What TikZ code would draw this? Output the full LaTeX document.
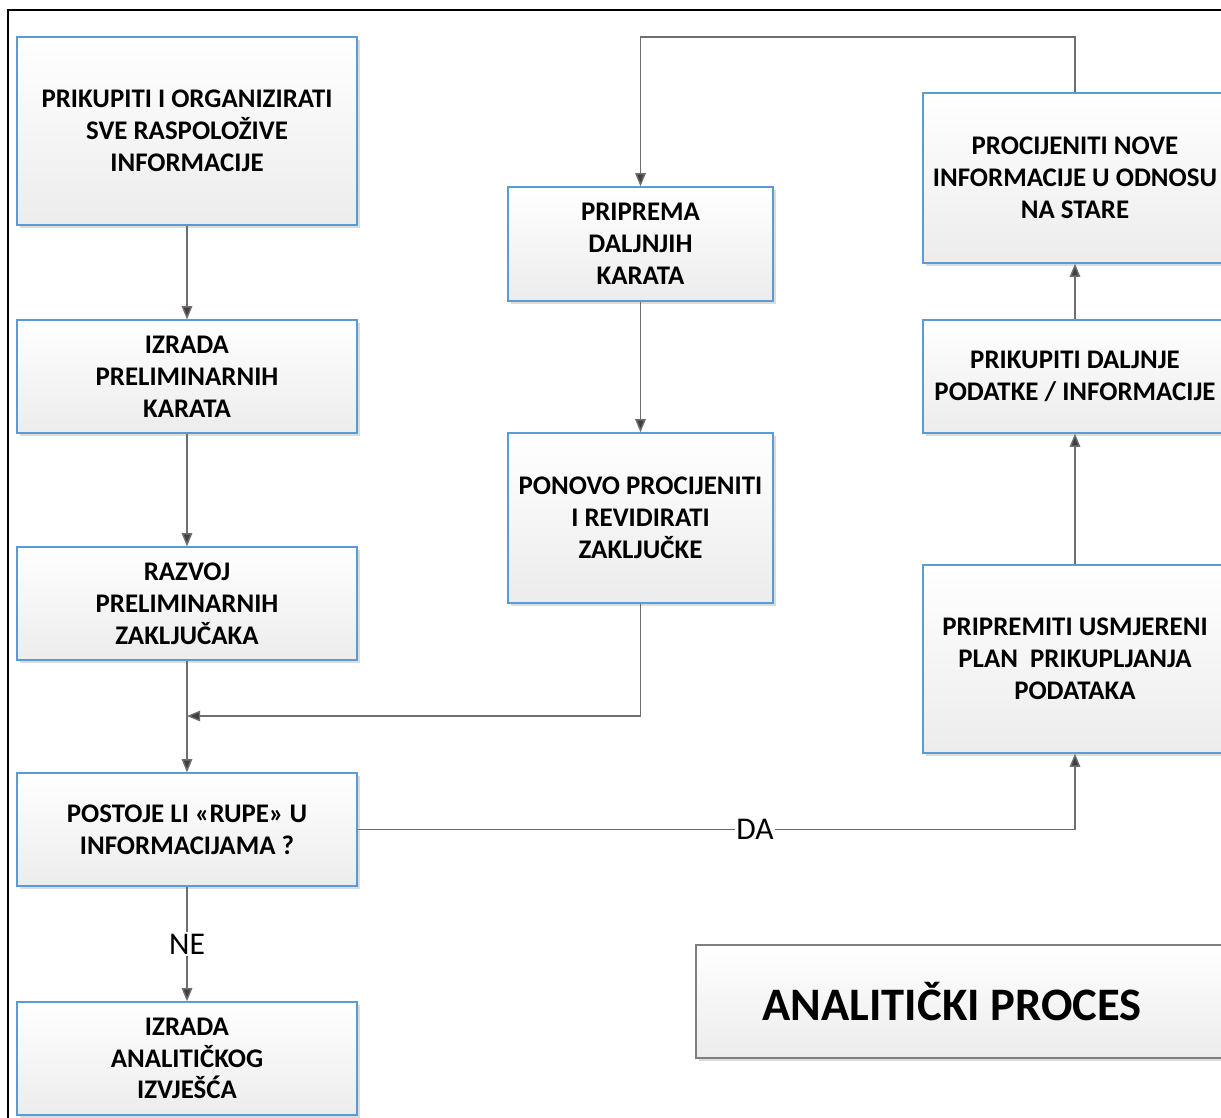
\documentclass[tikz,border=0pt]{standalone}
\usepackage{fontspec}
\setmainfont{Carlito}
\usepackage{tikz}
\usetikzlibrary{arrows.meta,shadows}
\definecolor{edge}{HTML}{5B9BD5}
\definecolor{boxbot}{HTML}{ECECEC}
\definecolor{line}{HTML}{6E6E6E}
\definecolor{tip}{HTML}{404040}
\definecolor{shade}{HTML}{DCDCDC}
\definecolor{titleedge}{HTML}{7F7F7F}
\tikzset{
  box/.style={draw=edge, line width=0.8pt, top color=white, bottom color=boxbot,
    drop shadow={shadow xshift=0.06cm, shadow yshift=-0.06cm, fill=shade, opacity=1},
    align=center, inner sep=2pt, font=\fontsize{15.3}{18.1}\selectfont\bfseries},
  left/.style={box, minimum width=6.8cm},
  mid/.style={box, minimum width=5.3cm},
  right/.style={box, minimum width=6.08cm},
  titlebox/.style={box, draw=titleedge, minimum width=10.8cm, minimum height=2.26cm,
    font=\fontsize{26.5}{30}\selectfont\bfseries},
  conn/.style={draw=line, line width=0.8pt, -{Triangle[length=7.5pt,width=6pt,fill=tip]}},
  lab/.style={fill=white, inner sep=1pt, font=\fontsize{18}{20}\selectfont},
  frame/.style={draw=black, line width=1.3pt},
}
\begin{document}
\begin{tikzpicture}[x=0.02cm, y=-0.02cm]
  \useasboundingbox (0,0) rectangle (1221,1117);
  \draw[frame] (8,1130) -- (8,10) -- (1240,10);

  % left column
  \node[left, minimum height=3.76cm] (prikupiti) at (187,131) {PRIKUPITI I ORGANIZIRATI\\SVE RASPOLOŽIVE\\INFORMACIJE};
  \node[left, minimum height=2.26cm] (izrada) at (187,376.5) {IZRADA\\PRELIMINARNIH\\KARATA};
  \node[left, minimum height=2.26cm] (razvoj) at (187,603.5) {RAZVOJ\\PRELIMINARNIH\\ZAKLJUČAKA};
  \node[left, minimum height=2.26cm] (rupe) at (187,829.5) {POSTOJE LI «RUPE» U\\INFORMACIJAMA ?};
  \node[left, minimum height=2.26cm] (izvjesce) at (187,1058.5) {IZRADA\\ANALITIČKOG\\IZVJEŠĆA};

  % middle column
  \node[mid, minimum height=2.28cm] (priprema) at (640.5,244) {PRIPREMA\\DALJNJIH\\KARATA};
  \node[mid, minimum height=3.4cm] (ponovo) at (640.5,518) {PONOVO PROCIJENITI\\I REVIDIRATI\\ZAKLJUČKE};

  % right column
  \node[right, minimum height=3.4cm] (procijeniti) at (1075,178) {PROCIJENITI NOVE\\INFORMACIJE U ODNOSU\\NA STARE};
  \node[right, minimum height=2.26cm] (daljnje) at (1075,376.5) {PRIKUPITI DALJNJE\\PODATKE / INFORMACIJE};
  \node[right, minimum height=3.76cm] (usmjereni) at (1075,659) {PRIPREMITI USMJERENI\\PLAN~~PRIKUPLJANJA\\PODATAKA};

  \node[titlebox] (naslov) at (966,1001.5) {ANALITIČKI PROCES\hspace{0.56cm}};

  \coordinate (merge) at (187,716);
  \coordinate (top) at (1075,37);

  \draw[conn] (prikupiti) -- (izrada);
  \draw[conn] (izrada) -- (razvoj);
  \draw[conn] (razvoj) -- (rupe);
  \draw[conn] (ponovo.south) |- (merge);
  \draw[conn] (rupe) -- node[lab, pos=0.5] {NE} (izvjesce);
  \draw[conn] (rupe.east) -| node[lab, pos=0.277] {DA} (usmjereni.south);
  \draw[conn] (usmjereni) -- (daljnje);
  \draw[conn] (daljnje) -- (procijeniti);
  \draw[conn] (procijeniti.north) -- (top) -| (priprema.north);
  \draw[conn] (priprema) -- (ponovo);
\end{tikzpicture}
\end{document}
